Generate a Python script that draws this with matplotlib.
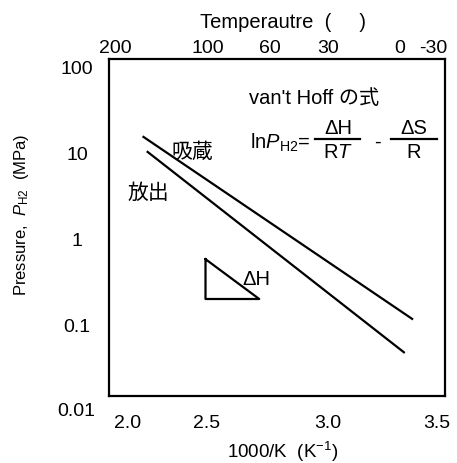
import matplotlib.pyplot as plt
from matplotlib.lines import Line2D
import matplotlib.transforms as mtransforms

plt.rcParams['font.family'] = ['Liberation Sans', 'Noto Sans CJK JP', 'DejaVu Sans']
plt.rcParams['mathtext.fontset'] = 'custom'
plt.rcParams['mathtext.rm'] = 'Liberation Sans'
plt.rcParams['mathtext.it'] = 'Liberation Sans:italic'

# データ (1000/T, 圧力 MPa)
absorb_x = [2.08, 3.38]
absorb_p = [15.1, 0.115]
desorb_x = [2.10, 3.34]
desorb_p = [10.1, 0.047]

# ΔH の三角形
tri_x = [2.38, 2.38, 2.64, 2.38]
tri_p = [0.57, 0.196, 0.196, 0.57]

# 目盛りラベル
bottom_ticks = [2.005, 2.387, 2.973, 3.5]
bottom_labels = ['2.0', '2.5', '3.0', '3.5']
top_ticks = [1.942, 2.392, 2.692, 2.973, 3.321, 3.481]
top_labels = ['200', '100', '60', '30', '0', '-30']
y_ticks = [100, 10, 1, 0.1]
y_labels = ['100', '10', '1', '0.1']

W, H = 457, 464
fig = plt.figure(figsize=(W / 100, H / 100), dpi=100)
ax = fig.add_axes([109 / W, 1 - 397 / H, 336 / W, 337 / H])


def px(x, y):
    return x / W, 1 - y / H


ax.set_yscale('log')
ax.set_xlim(1.913, 3.539)
ax.set_ylim(10 ** -1.837, 10 ** 2.086)

ax.plot(absorb_x, absorb_p, color='black', lw=1.6)
ax.plot(desorb_x, desorb_p, color='black', lw=1.6)
ax.plot(tri_x, tri_p, color='black', lw=1.6)

for s in ax.spines.values():
    s.set_linewidth(1.6)

ax.minorticks_off()
ax.set_xticks(bottom_ticks, bottom_labels)
ax.set_yticks(y_ticks, y_labels)
ax.tick_params(axis='x', length=0, pad=13, labelsize=14)
ax.tick_params(axis='y', length=0, pad=23, labelsize=14)
for lab in ax.get_yticklabels():
    lab.set_horizontalalignment('center')

# 0.01 は枠の外
trans = mtransforms.blended_transform_factory(ax.transAxes, ax.transData)
ax.text(-33 / 336, 0.01, '0.01', transform=trans, ha='center', va='center',
        fontsize=14, clip_on=False)

top = ax.secondary_xaxis('top')
top.set_xticks(top_ticks, top_labels)
top.tick_params(length=0, pad=2, labelsize=14)
top.spines['top'].set_visible(False)

fig.text(*px(283, 22), 'Temperautre  (     )', ha='center', va='center', fontsize=14.5)
fig.text(*px(283, 452), '1000/K  (K$^{-1}$)', ha='center', va='center', fontsize=13.5)
fig.text(*px(22, 215), r'Pressure,  $P_{\mathrm{H2}}$  (MPa)', ha='center', va='center',
         rotation=90, fontsize=12)

ax.text(2.315, 10 ** 1.015, '吸蔵', ha='center', va='center', fontsize=15)
ax.text(2.102, 10 ** 0.538, '放出', ha='center', va='center', fontsize=15)
ax.text(2.56, 0.335, 'ΔH', ha='left', va='center', fontsize=14.5)

# van't Hoff の式
fig.text(*px(314, 98), "van't Hoff の式", ha='center', va='center', fontsize=14.5)
fig.text(*px(250, 143), r'ln$P_{\mathrm{H2}}$=', ha='left', va='center', fontsize=14.5)
fig.text(*px(338, 129), 'ΔH', ha='center', va='center', fontsize=14.5)
fig.text(*px(338, 152), r'R$T$', ha='center', va='center', fontsize=14.5)
fig.text(*px(377, 142), '-', ha='center', va='center', fontsize=14.5)
fig.text(*px(414, 129), 'ΔS', ha='center', va='center', fontsize=14.5)
fig.text(*px(414, 152), 'R', ha='center', va='center', fontsize=14.5)
for x0, x1 in [(315, 360), (391, 437)]:
    fig.add_artist(Line2D([x0 / W, x1 / W], [1 - 140 / H] * 2, color='black', lw=1.6))

fig.savefig('out.png', dpi=100)
